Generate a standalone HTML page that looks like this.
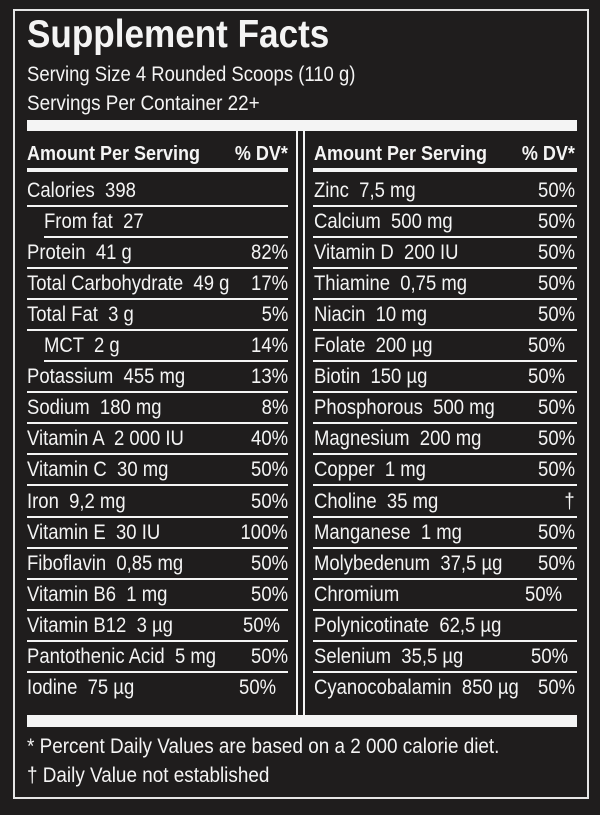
<!DOCTYPE html>
<html><head><meta charset="utf-8"><style>
html,body{margin:0;padding:0}
body{width:600px;height:815px;background:#1f1d1d;position:relative;overflow:hidden;font-family:"Liberation Sans",sans-serif;color:#f4f4f4}
.a{position:absolute;white-space:pre;line-height:1}
.t{font-size:21px;transform:scaleX(.88);transform-origin:left}
.r{font-size:21px;transform:scaleX(.88);transform-origin:right}
.w{position:absolute;background:#f4f4f4}
</style></head><body>
<div style="position:absolute;left:13px;top:9px;width:572px;height:786px;border:2px solid #e6e6e6"></div>
<div class="a" style="left:27px;top:15px;font-size:39px;font-weight:bold;transform:scaleX(.9);transform-origin:left">Supplement Facts</div>
<div class="a t" style="left:27px;top:64px">Serving Size 4 Rounded Scoops (110 g)</div>
<div class="a t" style="left:27px;top:93px;transform:scaleX(.9)">Servings Per Container 22+</div>
<div class="w" style="left:27px;top:120px;width:550px;height:11px"></div>
<div class="w" style="left:296px;top:131px;width:2px;height:584px"></div>
<div class="w" style="left:303px;top:131px;width:2px;height:584px"></div>
<div class="w" style="left:27px;top:715px;width:550px;height:12px"></div>
<div class="a" style="left:27px;top:144px;font-size:20px;font-weight:bold;transform:scaleX(.9);transform-origin:left">Amount Per Serving</div>
<div class="a" style="right:312px;top:144px;font-size:20px;font-weight:bold;transform:scaleX(.9);transform-origin:right">% DV*</div>
<div class="a" style="left:314px;top:144px;font-size:20px;font-weight:bold;transform:scaleX(.9);transform-origin:left">Amount Per Serving</div>
<div class="a" style="right:25px;top:144px;font-size:20px;font-weight:bold;transform:scaleX(.9);transform-origin:right">% DV*</div>
<div class="w" style="left:27px;top:168px;width:261px;height:4px"></div>
<div class="w" style="left:313px;top:168px;width:264px;height:4px"></div>
<div id="rows"></div>
<div class="a t" style="left:27px;top:736px;transform:scaleX(.9)">* Percent Daily Values are based on a 2 000 calorie diet.</div>
<div class="a t" style="left:27px;top:765px;transform:scaleX(.9)">† Daily Value not established</div>
<script>
(function(){
var L=[["Calories  398","",288,27],["From fat  27","",288,44],["Protein  41 g","82%",288,27],["Total Carbohydrate  49 g","17%",288,27],["Total Fat  3 g","5%",288,27],["MCT  2 g","14%",288,44],["Potassium  455 mg","13%",288,27],["Sodium  180 mg","8%",288,27],["Vitamin A  2 000 IU","40%",288,27],["Vitamin C  30 mg","50%",288,27],["Iron  9,2 mg","50%",288,27],["Vitamin E  30 IU","100%",288,27],["Fiboflavin  0,85 mg","50%",288,27],["Vitamin B6  1 mg","50%",288,27],["Vitamin B12  3 µg","50%",280,27],["Pantothenic Acid  5 mg","50%",288,27],["Iodine  75 µg","50%",276,27]];
var R=[["Zinc  7,5 mg","50%",575],["Calcium  500 mg","50%",575],["Vitamin D  200 IU","50%",575],["Thiamine  0,75 mg","50%",575],["Niacin  10 mg","50%",575],["Folate  200 µg","50%",565],["Biotin  150 µg","50%",565],["Phosphorous  500 mg","50%",575],["Magnesium  200 mg","50%",575],["Copper  1 mg","50%",575],["Choline  35 mg","†",575],["Manganese  1 mg","50%",575],["Molybedenum  37,5 µg","50%",575],["Chromium","50%",562],["Polynicotinate  62,5 µg","",575],["Selenium  35,5 µg","50%",568],["Cyanocobalamin  850 µg","50%",575]];
var h="";
for(var i=0;i<17;i++){
 var b=197+31.1*i, ty=(b-17.5).toFixed(1), ly=(205+31.1*i-0.5).toFixed(1);
 var l=L[i],r=R[i];
 h+='<div class="a t" style="left:'+l[3]+'px;top:'+ty+'px">'+l[0]+'</div>';
 if(l[1])h+='<div class="a r" style="right:'+(600-l[2])+'px;top:'+ty+'px">'+l[1]+'</div>';
 h+='<div class="a t" style="left:314px;top:'+ty+'px">'+r[0]+'</div>';
 if(r[1])h+='<div class="a r" style="right:'+(600-r[2])+'px;top:'+ty+'px">'+r[1]+'</div>';
 if(i<16){
  var lx=(i==1||i==5)?44:27;
  h+='<div class="w" style="left:'+lx+'px;top:'+ly+'px;width:'+(288-lx)+'px;height:2px"></div>';
  h+='<div class="w" style="left:313px;top:'+ly+'px;width:264px;height:2px"></div>';
 }
}
document.getElementById("rows").innerHTML=h;
})();
</script>
</body></html>
